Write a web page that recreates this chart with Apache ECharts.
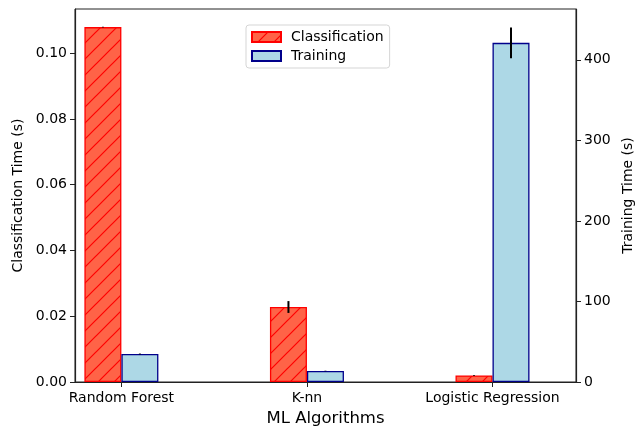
<!DOCTYPE html>
<html><head><meta charset="utf-8">
<script src="https://cdn.jsdelivr.net/npm/echarts@6/dist/echarts.min.js"></script>
<style>html,body{margin:0;padding:0;background:#fff}#c{width:642px;height:430px}</style>
</head><body><div id="c"></div>
<script>
var categories = ['Random Forest', 'K-nn', 'Logistic Regression'];
var classificationTime = [0.1079, 0.0228, 0.0020];
var classificationErr = [0.0001, 0.0018, 0.0001];
var trainingTime = [34.8, 13.7, 421];
var trainingErr = [0.5, 0.3, 19];
var leftTicks = [0, 0.02, 0.04, 0.06, 0.08, 0.10];
var rightTicks = [0, 100, 200, 300, 400];

var BW = 37;
var FONT = 'DejaVu Sans';

var cv = document.createElement('canvas');
cv.width = 16; cv.height = 16;
var cx = cv.getContext('2d');
cx.fillStyle = '#FF6347'; cx.fillRect(0, 0, 16, 16);
cx.strokeStyle = '#FF0000'; cx.lineWidth = 1.2;
cx.beginPath();
cx.moveTo(-2, 18); cx.lineTo(18, -2);
cx.moveTo(-2, 2); cx.lineTo(2, -2);
cx.moveTo(14, 18); cx.lineTo(18, 14);
cx.stroke();

function pts(vals) { return vals.map(function (v, i) { return [i, v]; }); }
function errPts(vals, errs) { return vals.map(function (v, i) { return [i, v, errs[i]]; }); }
function errRender(dx) {
  return function (params, api) {
    var x = api.value(0), y = api.value(1), e = api.value(2);
    var p1 = api.coord([x, y - e]), p2 = api.coord([x, y + e]);
    return { type: 'line', shape: { x1: p1[0] + dx, y1: p1[1], x2: p2[0] + dx, y2: p2[1] },
      style: { stroke: '#000', lineWidth: 2 } };
  };
}

var chart = echarts.init(document.getElementById('c'));
chart.setOption({
  animation: false,
  textStyle: { fontFamily: FONT },
  grid: { left: 75, right: 66, top: 9, bottom: 48, outerBoundsMode: 'none', containLabel: false, show: true, borderColor: '#222', borderWidth: 1, backgroundColor: 'transparent' },
  legend: {
    orient: 'vertical', left: 246, top: 25, padding: [5, 6, 5, 5],
    itemWidth: 29, itemHeight: 10, itemGap: 5, icon: 'rect',
    backgroundColor: '#fff', borderColor: '#d5d5d5', borderWidth: 1, borderRadius: 3,
    textStyle: { fontFamily: FONT, fontSize: 14, color: '#000', padding: [0, 0, 0, 5] },
    data: ['Classification', 'Training']
  },
  xAxis: {
    type: 'value', min: -0.25, max: 2.45,
    splitLine: { show: false },
    axisLine: { show: true, onZero: false, lineStyle: { color: '#222', width: 1.2 } },
    axisTick: { show: true, customValues: [0, 1, 2], length: 5, lineStyle: { color: '#222' } },
    axisLabel: { customValues: [0, 1, 2], formatter: function (v) { return categories[Math.round(v)]; },
      fontFamily: FONT, fontSize: 14, color: '#000', margin: 9 },
    name: 'ML Algorithms', nameLocation: 'middle', nameGap: 28,
    nameTextStyle: { fontFamily: FONT, fontSize: 16.5, color: '#000' }
  },
  yAxis: [{
    type: 'value', min: 0, max: 0.1134, interval: 0.02,
    splitLine: { show: false },
    axisLine: { show: true, onZero: false, lineStyle: { color: '#222', width: 1.2 } },
    axisTick: { show: true, customValues: leftTicks, length: 5, lineStyle: { color: '#222' } },
    axisLabel: { customValues: leftTicks, formatter: function (v) { return v.toFixed(2); }, fontFamily: FONT, fontSize: 14, color: '#000', margin: 8 },
    name: 'Classification Time (s)', nameLocation: 'middle', nameGap: 44, nameRotate: 90,
    nameTextStyle: { fontFamily: FONT, fontSize: 14, color: '#000' }
  }, {
    type: 'value', min: 0, max: 463, interval: 100, position: 'right',
    splitLine: { show: false },
    axisLine: { show: true, onZero: false, lineStyle: { color: '#222', width: 1.2 } },
    axisTick: { show: true, customValues: rightTicks, length: 5, lineStyle: { color: '#222' } },
    axisLabel: { customValues: rightTicks, fontFamily: FONT, fontSize: 14, color: '#000', margin: 8 },
    name: 'Training Time (s)', nameLocation: 'middle', nameGap: 36, nameRotate: 90,
    nameTextStyle: { fontFamily: FONT, fontSize: 14, color: '#000' }
  }],
  series: [{
    name: 'Classification', type: 'bar', yAxisIndex: 0, barWidth: BW, barGap: '0%',
    itemStyle: { color: { image: cv, repeat: 'repeat' }, borderColor: '#FF0000', borderWidth: 1.3 },
    data: pts(classificationTime)
  }, {
    name: 'Training', type: 'bar', yAxisIndex: 1, barWidth: BW, barGap: '0%',
    itemStyle: { color: '#ADD8E6', borderColor: '#00008B', borderWidth: 1.3 },
    data: pts(trainingTime)
  }, {
    type: 'custom', yAxisIndex: 0, renderItem: errRender(-BW / 2), encode: { x: 0, y: 1 },
    data: errPts(classificationTime, classificationErr), z: 10
  }, {
    type: 'custom', yAxisIndex: 1, renderItem: errRender(BW / 2), encode: { x: 0, y: 1 },
    data: errPts(trainingTime, trainingErr), z: 10
  }]
});
</script></body></html>
